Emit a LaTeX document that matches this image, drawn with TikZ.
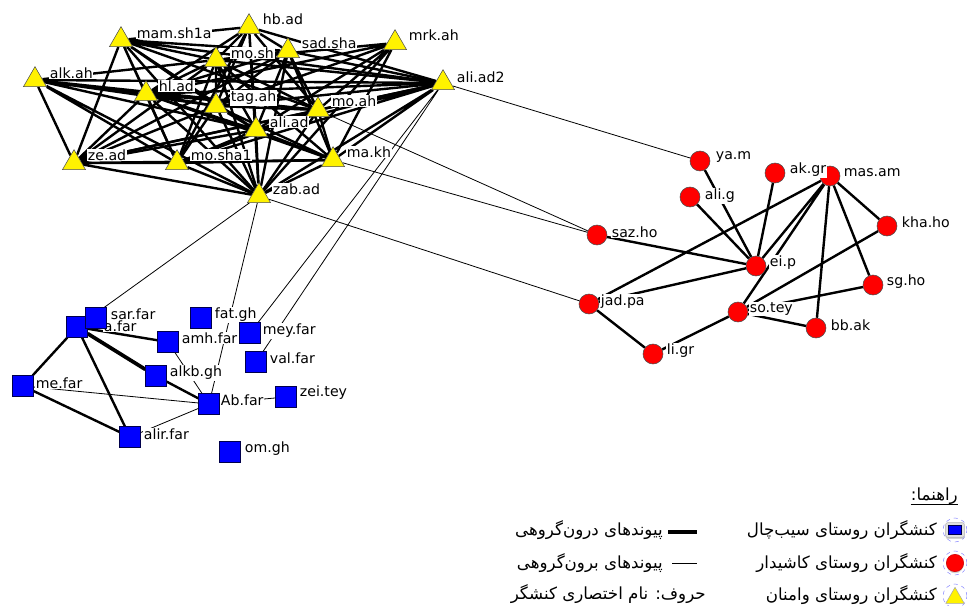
\documentclass[tikz,border=0pt]{standalone}
\usepackage{fontspec}
\setmainfont{DejaVu Sans}
\newfontfamily\fafont[Script=Arabic]{DejaVu Sans}
\TeXXeTstate=1
\usetikzlibrary{shapes.geometric, backgrounds, shadows}

\begin{document}
\begin{tikzpicture}[
          x=0.75pt, y=-0.75pt,
          tri/.style={regular polygon, regular polygon sides=3, draw=black!70,
                      fill=yellow, minimum size=20pt, inner sep=0pt},
          disc/.style={circle, draw=black!70, fill=red, minimum size=15pt,
                       inner sep=0pt},
          sq/.style={rectangle, draw=blue!30!black, fill=blue,
                     minimum size=15.5pt, inner sep=0pt},
          lbl/.style={anchor=west, fill=white, inner sep=0.5pt,
                      font=\fontsize{10.6}{12}\selectfont},
          inlink/.style={line width=1.8pt, black},
          outlink/.style={line width=0.6pt, black},
          fa/.style={inner sep=0pt, font=\fontsize{12.5}{15}\fafont},
          ring/.style={circle, draw=blue!45, dashed, line width=0.4pt,
                       minimum size=18pt},
          icon/.style={drop shadow={opacity=0.35, shadow xshift=0pt,
                       shadow yshift=-1.2pt}}
        ]
          \useasboundingbox (0,0) rectangle (967,606);

          \node[tri] (mam) at (121,40) {};
          \node[lbl] (mam-l) at (136,33) {mam.sh1a};
          \node[tri] (hb) at (249,27) {};
          \node[lbl] (hb-l) at (262,19) {hb.ad};
          \node[tri] (sad) at (288,51) {};
          \node[lbl] (sad-l) at (301,43) {sad.sha};
          \node[tri] (mosh) at (216,60) {};
          \node[lbl] (mosh-l) at (230,53) {mo.sh};
          \node[tri] (mrk) at (395,43) {};
          \node[lbl] (mrk-l) at (408,35) {mrk.ah};
          \node[tri] (alk) at (35,80) {};
          \node[lbl] (alk-l) at (49,73) {alk.ah};
          \node[tri] (hl) at (146,94) {};
          \node[lbl] (hl-l) at (158,86) {hl.ad};
          \node[tri] (tag) at (216,106) {};
          \node[lbl] (tag-l) at (230,98) {tag.ah};
          \node[tri] (moah) at (318,110) {};
          \node[lbl] (moah-l) at (331,101) {mo.ah};
          \node[tri] (ali2) at (443,83) {};
          \node[lbl] (ali2-l) at (456,77) {ali.ad2};
          \node[tri] (ali) at (256,130) {};
          \node[lbl] (ali-l) at (269,122) {ali.ad};
          \node[tri] (ze) at (74,163) {};
          \node[lbl] (ze-l) at (87,155) {ze.ad};
          \node[tri] (mosha) at (177,163) {};
          \node[lbl] (mosha-l) at (190,155) {mo.sha1};
          \node[tri] (makh) at (333,160) {};
          \node[lbl] (makh-l) at (346,152) {ma.kh};
          \node[tri] (zab) at (259,196) {};
          \node[lbl] (zab-l) at (272,189) {zab.ad};

          \node[disc] (yam) at (700,161) {};
          \node[lbl] (yam-l) at (715,157) {ya.m};
          \node[disc] (masam) at (830,176) {};
          \node[lbl] (masam-l) at (843,173) {mas.am};
          \node[disc] (akgr) at (775,173) {};
          \node[lbl] (akgr-l) at (789,170) {ak.gr};
          \node[disc] (alig) at (690,197) {};
          \node[lbl] (alig-l) at (704,196) {ali.g};
          \node[disc] (sazho) at (597,235) {};
          \node[lbl] (sazho-l) at (611,232) {saz.ho};
          \node[disc] (khaho) at (887,226) {};
          \node[lbl] (khaho-l) at (901,222) {kha.ho};
          \node[disc] (eip) at (756,266) {};
          \node[lbl] (eip-l) at (769,263) {ei.p};
          \node[disc] (sgho) at (873,285) {};
          \node[lbl] (sgho-l) at (886,282) {sg.ho};
          \node[disc] (jadpa) at (589,304) {};
          \node[lbl] (jadpa-l) at (600,302) {jad.pa};
          \node[disc] (sotey) at (738,312) {};
          \node[lbl] (sotey-l) at (749,309) {so.tey};
          \node[disc] (bbak) at (816,328) {};
          \node[lbl] (bbak-l) at (830,325) {bb.ak};
          \node[disc] (ligr) at (653,354) {};
          \node[lbl] (ligr-l) at (666,351) {li.gr};

          \node[sq] (afar) at (77,327) {};
          \node[lbl] (afar-l) at (103,326) {a.far};
          \node[sq] (sarfar) at (96,318) {};
          \node[lbl] (sarfar-l) at (110,314) {sar.far};
          \node[sq] (fatgh) at (201,318) {};
          \node[lbl] (fatgh-l) at (214,315) {fat.gh};
          \node[sq] (amhfar) at (168,342) {};
          \node[lbl] (amhfar-l) at (181,338) {amh.far};
          \node[sq] (meyfar) at (250,333) {};
          \node[lbl] (meyfar-l) at (262,331) {mey.far};
          \node[sq] (valfar) at (256,362) {};
          \node[lbl] (valfar-l) at (269,358) {val.far};
          \node[sq] (alkbgh) at (156,376) {};
          \node[lbl] (alkbgh-l) at (169,373) {alkb.gh};
          \node[sq] (mefar) at (23,386) {};
          \node[lbl] (mefar-l) at (35,383) {me.far};
          \node[sq] (abfar) at (209,404) {};
          \node[lbl] (abfar-l) at (220,400) {Ab.far};
          \node[sq] (zeitey) at (286,397) {};
          \node[lbl] (zeitey-l) at (299,393) {zei.tey};
          \node[sq] (alirfar) at (130,437) {};
          \node[lbl] (alirfar-l) at (143,434) {alir.far};
          \node[sq] (omgh) at (230,452) {};
          \node[lbl] (omgh-l) at (244,449) {om.gh};

          \begin{scope}[on background layer]
            \draw[inlink] (alk) -- (ze) (alk) -- (hl) (alk) -- (tag) (alk) -- (ali)
              (alk) -- (moah) (alk) -- (mosha) (alk) -- (zab) (alk) -- (mosh);
            \draw[inlink] (mam) -- (ze) (mam) -- (hl) (mam) -- (hb) (mam) -- (mosh)
              (mam) -- (sad) (mam) -- (tag) (mam) -- (moah) (mam) -- (ali)
              (mam) -- (ali2) (mam) -- (zab) (mam) -- (mosha);
            \draw[inlink] (hb) -- (mosh) (hb) -- (sad) (hb) -- (hl) (hb) -- (tag)
              (hb) -- (moah) (hb) -- (ali) (hb) -- (ali2) (hb) -- (zab) (hb) -- (mosha);
            \draw[inlink] (mosh) -- (sad) (mosh) -- (hl) (mosh) -- (tag) (mosh) -- (moah)
              (mosh) -- (ali) (mosh) -- (ali2) (mosh) -- (mosha) (mosh) -- (ze)
              (mosh) -- (zab) (mosh) -- (makh);
            \draw[inlink] (sad) -- (tag) (sad) -- (moah) (sad) -- (ali) (sad) -- (makh)
              (sad) -- (ali2) (sad) -- (zab) (sad) -- (hl) (sad) -- (ze);
            \draw[inlink] (mrk) -- (moah) (mrk) -- (ali) (mrk) -- (tag) (mrk) -- (makh)
              (mrk) -- (zab) (mrk) -- (mosh) (mrk) -- (hl);
            \draw[inlink] (hl) -- (tag) (hl) -- (ali) (hl) -- (moah) (hl) -- (ze)
              (hl) -- (mosha) (hl) -- (zab) (hl) -- (makh) (hl) -- (ali2);
            \draw[inlink] (tag) -- (ali) (tag) -- (moah) (tag) -- (mosha) (tag) -- (ze)
              (tag) -- (zab) (tag) -- (makh) (tag) -- (ali2);
            \draw[inlink] (moah) -- (ali) (moah) -- (makh) (moah) -- (zab)
              (moah) -- (ali2) (moah) -- (ze) (moah) -- (mosha);
            \draw[inlink] (ali2) -- (ali) (ali2) -- (makh) (ali2) -- (zab)
              (ali2) -- (alk) (ali2) -- (ze) (ali2) -- (mosha);
            \draw[inlink] (ali) -- (mosha) (ali) -- (ze) (ali) -- (zab) (ali) -- (makh);
            \draw[inlink] (ze) -- (mosha) (ze) -- (zab) (ze) -- (makh);
            \draw[inlink] (mosha) -- (zab) (mosha) -- (makh) (makh) -- (zab);

            \draw[inlink] (yam) -- (eip) (alig) -- (eip) (akgr) -- (eip) (sazho) -- (eip)
              (masam) -- (eip) (masam) -- (sotey) (masam) -- (jadpa) (masam) -- (bbak)
              (masam) -- (khaho) (masam) -- (sgho) (khaho) -- (sotey) (sgho) -- (sotey)
              (sotey) -- (bbak) (sotey) -- (ligr) (jadpa) -- (ligr) (jadpa) -- (eip);

            \draw[inlink] (afar) -- (mefar) (afar) -- (amhfar) (afar) -- (alirfar)
              (mefar) -- (alirfar) (alkbgh) -- (abfar) (afar) -- (sarfar);
            \draw[inlink, line width=2.8pt] (afar) -- (alkbgh);

            \draw[outlink] (ali2) -- (yam) (moah) -- (sazho) (makh) -- (sazho)
              (zab) -- (jadpa) (zab) -- (afar) (zab) -- (abfar)
              (ali2) -- (meyfar) (ali2) -- (valfar);
            \draw[outlink] (mefar) -- (abfar) (amhfar) -- (abfar) (alirfar) -- (abfar)
              (zeitey) -- (abfar);
          \end{scope}

          \node[fa, anchor=east] (key) at (958,496) {\beginR راهنما:\endR};
          \draw[line width=0.6pt] (key.south west) -- (key.south east);

          \node[ring] (r1) at (955,530) {};
          \node[icon, rectangle, rounded corners=1.5pt, fill=gray!25, draw=gray!60,
                minimum width=14pt, minimum height=11pt] (i1) at (r1) {};
          \node[sq, minimum width=10pt, minimum height=7pt] (i1b) at (r1) {};
          \node[ring] (r2) at (955,563) {};
          \node[icon, disc, minimum size=13pt, draw=red!80!black] (i2) at (r2) {};
          \node[ring] (r3) at (955,596) {};
          \node[tri, minimum size=16pt, draw=gray!70] (i3) at (955,598) {};

          \node[fa, anchor=east] (t1) at (937,530) {\beginR کنشگران روستای سیب^^^^200cچال\endR};
          \node[fa, anchor=east] (t2) at (937,563) {\beginR کنشگران روستای کاشیدار\endR};
          \node[fa, anchor=east] (t3) at (937,595) {\beginR کنشگران روستای وامنان\endR};

          \coordinate (k1a) at (668,532);
          \coordinate (k1b) at (697,532);
          \coordinate (k2a) at (672,563);
          \coordinate (k2b) at (697,563);
          \draw[line width=3pt] (k1a) -- (k1b);
          \draw[line width=0.6pt] (k2a) -- (k2b);
          \node[fa, anchor=east] (t4) at (663,530) {\beginR پیوندهای درون^^^^200cگروهی\endR};
          \node[fa, anchor=east] (t5) at (663,563) {\beginR پیوندهای برون^^^^200cگروهی\endR};
          \node[fa, anchor=east] (t6) at (706,594) {\beginR حروف: نام اختصاری کنشگر\endR};
        \end{tikzpicture}
\end{document}
